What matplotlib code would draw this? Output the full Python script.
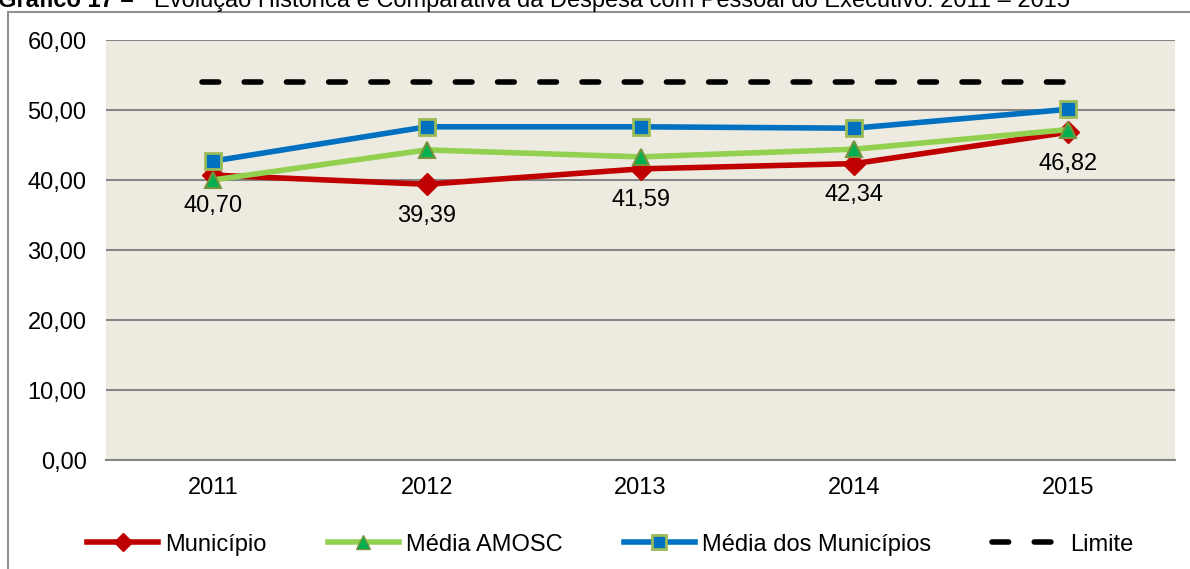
import matplotlib.pyplot as plt
from matplotlib.patches import Rectangle
from matplotlib.lines import Line2D

# === Dados ===
anos = ['2011', '2012', '2013', '2014', '2015']
municipio = [40.70, 39.39, 41.59, 42.34, 46.82]
media_amosc = [40.0, 44.3, 43.3, 44.4, 47.2]
media_municipios = [42.7, 47.6, 47.6, 47.4, 50.1]
limite = [54.0, 54.0, 54.0, 54.0, 54.0]
rotulos = ['40,70', '39,39', '41,59', '42,34', '46,82']

plt.rcParams['font.family'] = ['Liberation Sans', 'DejaVu Sans']
FS = 17

fig = plt.figure(figsize=(11.9, 5.69), dpi=100)
ax = fig.add_axes([106 / 1190, (569 - 460) / 569, (1175 - 106) / 1190, 420 / 569])

x = list(range(len(anos)))

# moldura externa
fig.patches.append(Rectangle((8 / 1190, -0.01), 1.0, (569 - 12) / 569 + 0.01,
                             transform=fig.transFigure, fill=False,
                             edgecolor='#909090', lw=1.5))

# titulo (cortado no topo, como no original)
yb = (569 - 7) / 569
fig.text(140 / 1190, yb, 'Gráfico 17 – ', fontsize=FS, fontweight='bold', va='baseline', ha='right')
fig.text(154 / 1190, yb, 'Evolução Histórica e Comparativa da Despesa com Pessoal do Executivo: 2011 – 2015',
         fontsize=FS, va='baseline', ha='left')

ax.set_facecolor('#EDEAE0')

# Limite (tracejado)
ax.plot([x[0] - 0.05, x[-1] + 0.02], [limite[0], limite[-1]], color='black', lw=4,
        dashes=(3, 4.6), dash_capstyle='round', zorder=2)

ax.plot(x, municipio, color='#C00000', lw=4, marker='D', ms=11,
        markerfacecolor='#C00000', markeredgecolor='#C00000', zorder=3)
ax.plot(x, media_amosc, color='#92D050', lw=4, marker='^', ms=12,
        markerfacecolor='#00B050', markeredgecolor='#77933C', markeredgewidth=1.5, zorder=4)
ax.plot(x, media_municipios, color='#0070C0', lw=4, marker='s', ms=12,
        markerfacecolor='#0070C0', markeredgecolor='#9BBB59', markeredgewidth=2, zorder=5)

for xi, yi, txt in zip(x, municipio, rotulos):
    ax.annotate(txt, (xi, yi), xytext=(0, -22.5), textcoords='offset points',
                ha='center', va='center', fontsize=FS)

ax.set_xlim(-0.5, len(anos) - 0.5)
ax.set_ylim(0, 60)
ax.set_yticks(range(0, 61, 10))
ax.set_yticklabels([f'{v:.2f}'.replace('.', ',') for v in range(0, 61, 10)])
ax.set_xticks(x)
ax.set_xticklabels(anos)
ax.tick_params(axis='both', labelsize=FS, length=0)
ax.tick_params(axis='y', pad=14)
ax.tick_params(axis='x', pad=12)

ax.grid(axis='y', color='#868686', lw=1.5)
ax.set_axisbelow(True)
for s in ['top', 'right', 'left']:
    ax.spines[s].set_visible(False)
ax.spines['bottom'].set_color('#868686')
ax.spines['bottom'].set_linewidth(1.5)

handles = [
    Line2D([], [], color='#C00000', lw=4, marker='D', ms=9, markerfacecolor='#C00000'),
    Line2D([], [], color='#92D050', lw=4, marker='^', ms=10, markerfacecolor='#00B050',
           markeredgecolor='#77933C'),
    Line2D([], [], color='#0070C0', lw=4, marker='s', ms=10, markerfacecolor='#0070C0',
           markeredgecolor='#9BBB59', markeredgewidth=2),
    Line2D([], [], color='black', lw=4, dashes=(3, 4.6), dash_capstyle='round'),
]
fig.legend(handles, ['Município', 'Média AMOSC', 'Média dos Municípios', 'Limite'],
           loc='center', bbox_to_anchor=(0.513, 0.043), ncol=4, frameon=False,
           fontsize=FS, handlelength=3.0, columnspacing=2.6, handletextpad=0.3)

fig.savefig('out.png', dpi=100)
